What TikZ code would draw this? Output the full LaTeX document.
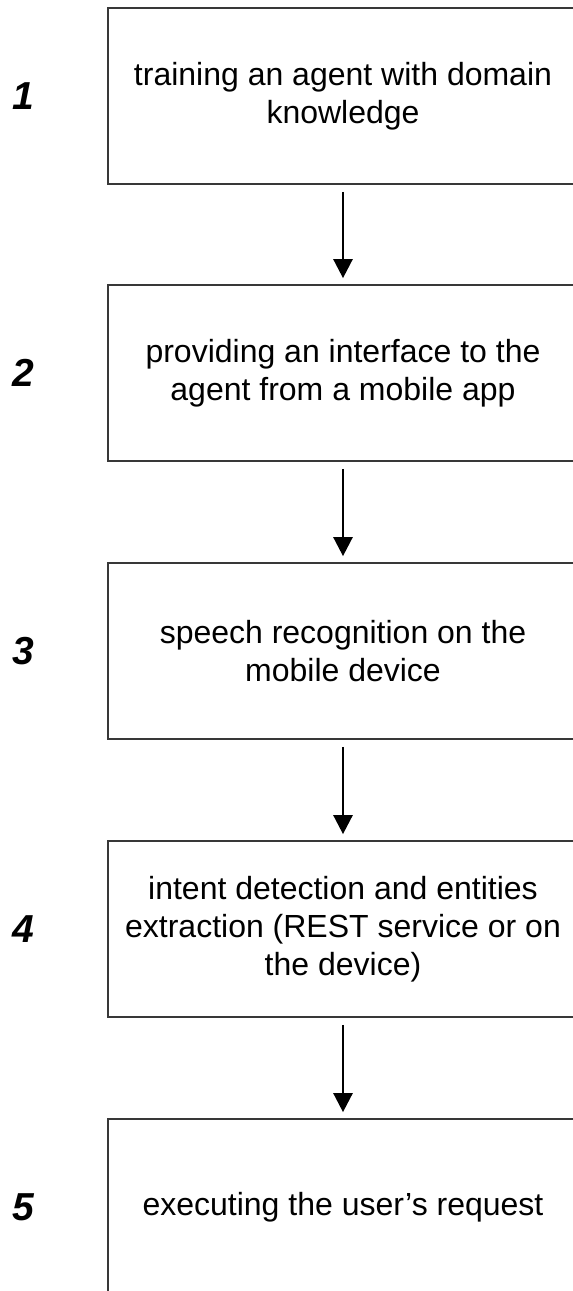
\documentclass[tikz,border=0pt]{standalone}
\usepackage{fontspec}
\setmainfont{Liberation Sans}
\usetikzlibrary{arrows.meta}
\definecolor{edgegray}{HTML}{383838}
\tikzset{
  stepbox/.style={draw=edgegray, line width=1.7pt, rectangle,
    minimum width=470pt, minimum height=176pt, inner sep=0pt,
    align=center, font=\fontsize{32}{38}\selectfont},
  stepnum/.style={font=\fontsize{39}{39}\selectfont\bfseries\itshape, inner sep=0pt},
  flow/.style={line width=2.6pt, -{Triangle[width=19pt,length=19pt]}}
}
\begin{document}
\begin{tikzpicture}[x=1pt,y=1pt]
\useasboundingbox (0,0) rectangle (573,1291);
\clip (0,0) rectangle (573,1291);
\fill[white] (0,0) rectangle (573,1291);

% process steps
\node[stepbox] (b1) at (343,1195) {training an agent with domain\\knowledge};
\node[stepbox] (b2) at (343,918) {providing an interface to the\\agent from a mobile app};
\node[stepbox] (b3) at (343,640) {speech recognition on the\\mobile device};
\node[stepbox] (b4) at (343,362) {intent detection and entities\\extraction (REST service or on\\the device)};
\node[stepbox] (b5) at (343,84) {executing the user’s request};

% step numbers
\node[stepnum] (n1) at (23,1195) {1};
\node[stepnum] (n2) at (23,918) {2};
\node[stepnum] (n3) at (23,640) {3};
\node[stepnum] (n4) at (23,362) {4};
\node[stepnum] (n5) at (23,84) {5};

% connectors
\draw[flow] ([yshift=-7pt]b1.south) -- ([yshift=6pt]b2.north);
\draw[flow] ([yshift=-7pt]b2.south) -- ([yshift=6pt]b3.north);
\draw[flow] ([yshift=-7pt]b3.south) -- ([yshift=6pt]b4.north);
\draw[flow] ([yshift=-7pt]b4.south) -- ([yshift=6pt]b5.north);
\end{tikzpicture}
\end{document}
